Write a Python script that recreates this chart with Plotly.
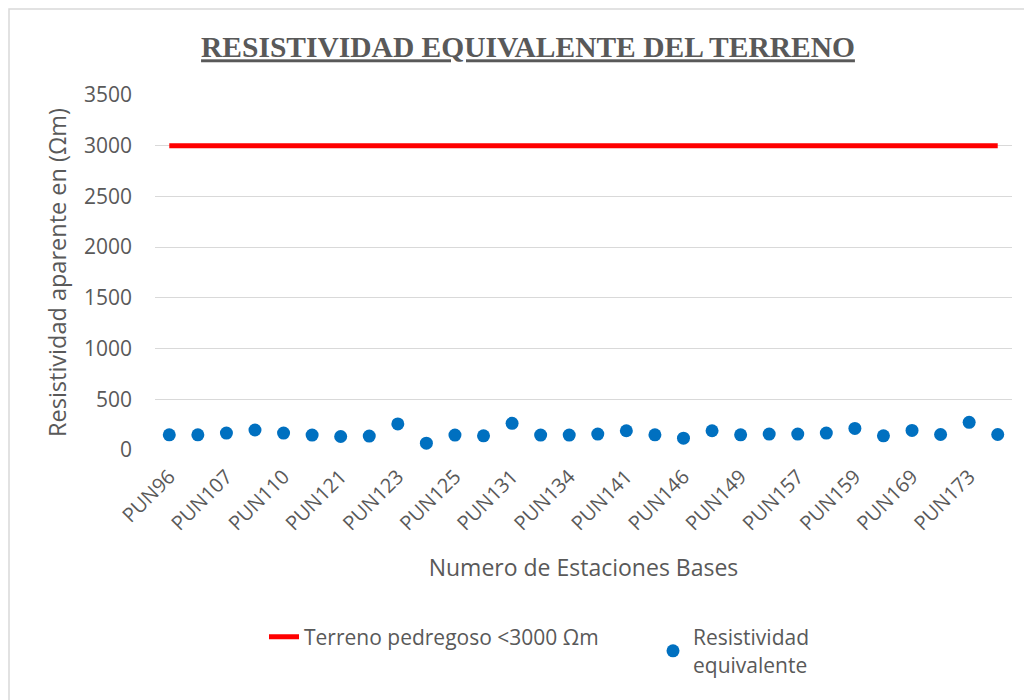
import plotly.graph_objects as go

# Data
categories = ["PUN96", "PUN100", "PUN107", "PUN108", "PUN110", "PUN115", "PUN121", "PUN122",
              "PUN123", "PUN124", "PUN125", "PUN128", "PUN131", "PUN132", "PUN134", "PUN138",
              "PUN141", "PUN143", "PUN146", "PUN147", "PUN149", "PUN152", "PUN157", "PUN158",
              "PUN159", "PUN163", "PUN169", "PUN171", "PUN173", "PUN175"]
resistividad = [150, 150, 167, 197, 167, 147, 133, 137, 257, 67,
                147, 140, 263, 147, 147, 157, 190, 150, 117, 190,
                150, 157, 157, 167, 213, 140, 193, 153, 273, 153]
umbral = [3000] * len(categories)
tick_labels = ["PUN96", "PUN107", "PUN110", "PUN121", "PUN123", "PUN125", "PUN131", "PUN134",
               "PUN141", "PUN146", "PUN149", "PUN157", "PUN159", "PUN169", "PUN173"]

font_main = "Open Sans"
gray = "#595959"

L, R, T, B = 147, 28, 87, 258
pw = 1032 - L - R
ph = 700 - T - B
bottom = 700 - B

fig = go.Figure()
fig.add_trace(go.Scatter(
    x=categories, y=umbral, mode="lines",
    name="Terreno pedregoso <3000 Ωm",
    line=dict(color="#FF0000", width=5),
    legend="legend",
))
fig.add_trace(go.Scatter(
    x=categories, y=resistividad, mode="markers",
    name="Resistividad<br>equivalente",
    marker=dict(color="#0070C0", size=13),
    legend="legend2",
))

fig.update_layout(
    width=1032, height=700,
    margin=dict(l=L, r=R, t=T, b=B, autoexpand=False),
    paper_bgcolor="white", plot_bgcolor="white",
    title=dict(
        text="<b><u>RESISTIVIDAD EQUIVALENTE DEL TERRENO</u></b>",
        font=dict(family="Liberation Serif", size=29.5, color=gray),
        x=520 / 1032, xanchor="center", xref="container",
        y=1 - 39 / 700, yanchor="middle", yref="container",
    ),
    xaxis=dict(
        type="category",
        categoryorder="array", categoryarray=categories,
        range=[-0.5, len(categories) - 0.5],
        tickmode="array", tickvals=tick_labels, ticktext=tick_labels,
        tickangle=-45,
        tickfont=dict(family=font_main, size=20, color=gray),
        showgrid=False, showline=False, zeroline=False,
        ticks="", ticklabelstandoff=10, automargin=False,
        title=dict(text="Numero de Estaciones Bases",
                   font=dict(family=font_main, size=23, color=gray), standoff=24),
    ),
    yaxis=dict(
        range=[0, 3500], dtick=500, tick0=0,
        tickfont=dict(family=font_main, size=21, color=gray),
        gridcolor="#d9d9d9", gridwidth=1.3,
        zeroline=False, showline=False, ticks="",
        ticklabelstandoff=22, automargin=False,
        title=dict(text="Resistividad aparente en (Ωm)",
                   font=dict(family=font_main, size=23.5, color=gray), standoff=10),
    ),
    legend=dict(
        orientation="h", x=(256 - L) / pw, xanchor="left",
        y=(bottom - 629) / ph, yanchor="middle",
        font=dict(family=font_main, size=21, color=gray),
        bgcolor="rgba(0,0,0,0)",
    ),
    legend2=dict(
        orientation="h", x=(645 - L) / pw, xanchor="left",
        y=(bottom - 609) / ph, yanchor="top",
        font=dict(family=font_main, size=21, color=gray),
        bgcolor="rgba(0,0,0,0)",
    ),
    showlegend=True,
)

# Chart border
fig.add_shape(type="rect", xref="paper", yref="paper",
              x0=(1 - L) / pw, x1=(1040 - L) / pw,
              y0=(bottom - 710) / ph, y1=(bottom - 1) / ph,
              line=dict(color="#d9d9d9", width=1.5), layer="below")

fig.write_html("out.html")
